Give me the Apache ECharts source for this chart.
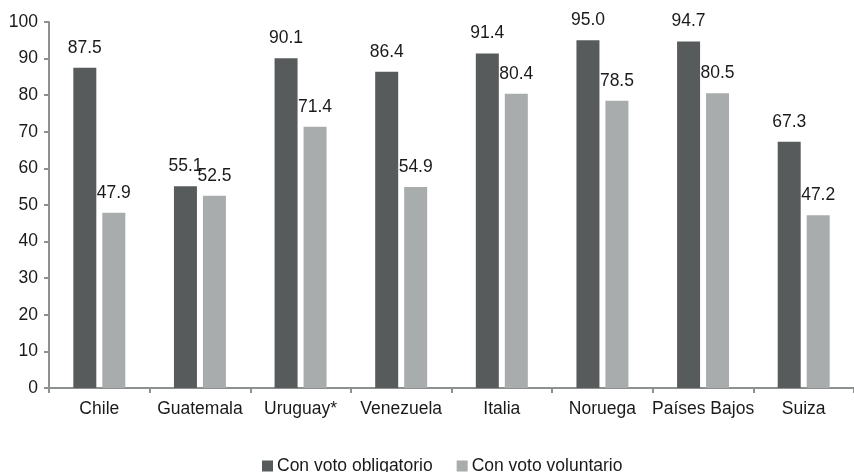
<!DOCTYPE html>
<html>
<head>
<meta charset="utf-8">
<script src="https://cdn.jsdelivr.net/npm/echarts@6/dist/echarts.min.js"></script>
<style>
  html, body { margin: 0; padding: 0; background: #ffffff; }
  #chart { width: 854px; height: 472px; }
</style>
</head>
<body>
<div id="chart"></div>
<script>
// Participación electoral por país según régimen de voto
const countries = ['Chile', 'Guatemala', 'Uruguay*', 'Venezuela', 'Italia', 'Noruega', 'Países Bajos', 'Suiza'];
const obligatorio = [87.5, 55.1, 90.1, 86.4, 91.4, 95.0, 94.7, 67.3];
const voluntario = [47.9, 52.5, 71.4, 54.9, 80.4, 78.5, 80.5, 47.2];
const seriesNames = ['Con voto obligatorio', 'Con voto voluntario'];
const yTicks = { min: 0, max: 100, step: 10 };

const font = '"Liberation Sans", Arial, Helvetica, sans-serif';
const axisGrey = '#8c9090';
const darkBar = '#575b5b';
const lightBar = '#a9acac';

const chart = echarts.init(document.getElementById('chart'), null, { renderer: 'canvas' });

const labelStyle = {
  show: true,
  position: 'top',
  distance: 11,
  color: '#1a1a1a',
  fontFamily: font,
  fontSize: 17.5,
  formatter: p => p.value.toFixed(1)
};

chart.setOption({
  animation: false,
  backgroundColor: '#ffffff',
  grid: { left: 49, top: 22, width: 814, height: 366, containLabel: false },
  legend: {
    top: 452,
    left: 257,
    itemWidth: 11,
    itemHeight: 11,
    itemGap: 24,
    icon: 'rect',
    textStyle: { color: '#1a1a1a', fontFamily: font, fontSize: 17.5, padding: [0, 0, 0, -1] },
    data: seriesNames
  },
  xAxis: {
    type: 'category',
    data: countries,
    axisLine: { lineStyle: { color: axisGrey, width: 2 } },
    axisTick: { show: true, alignWithLabel: false, length: 5, lineStyle: { color: axisGrey, width: 2 } },
    axisLabel: { color: '#1a1a1a', fontFamily: font, fontSize: 17.5, margin: 12, interval: 0 },
    splitLine: { show: false }
  },
  yAxis: {
    type: 'value',
    min: yTicks.min,
    max: yTicks.max,
    interval: yTicks.step,
    axisLine: { show: true, lineStyle: { color: axisGrey, width: 2 } },
    axisTick: { show: true, length: 5, lineStyle: { color: axisGrey, width: 2 } },
    axisLabel: { color: '#1a1a1a', fontFamily: font, fontSize: 17.5, margin: 11 },
    splitLine: { show: false }
  },
  series: [
    {
      name: seriesNames[0],
      type: 'bar',
      data: obligatorio,
      barWidth: 23,
      barGap: '26%',
      itemStyle: { color: darkBar },
      label: labelStyle
    },
    {
      name: seriesNames[1],
      type: 'bar',
      data: voluntario,
      barWidth: 23,
      itemStyle: { color: lightBar },
      label: labelStyle
    }
  ]
});
</script>
</body>
</html>
